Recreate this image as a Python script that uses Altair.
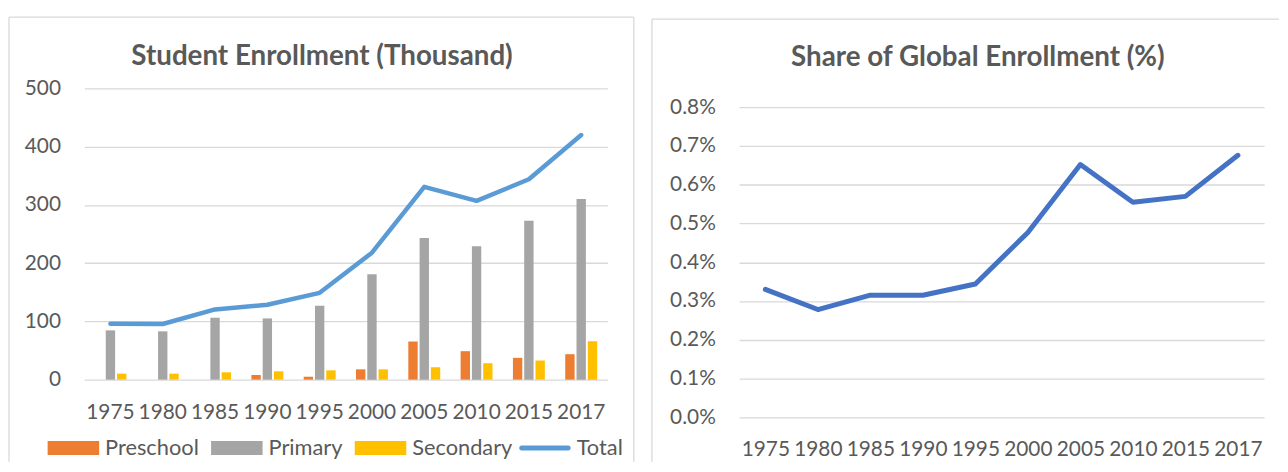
import altair as alt
import pandas as pd

# ---------------- data ----------------
years = ["1975", "1980", "1985", "1990", "1995", "2000", "2005", "2010", "2015", "2017"]
preschool = [0, 0, 0, 8, 5, 17.7, 65.5, 48.9, 37.4, 43.7]
primary = [84.6, 82.9, 106.3, 105.1, 126.9, 181, 243, 229, 273, 310]
secondary = [10.3, 10.3, 12.6, 14.3, 16, 17.7, 21.3, 28.2, 32.8, 66.1]
total = [96, 95.5, 120.5, 128.5, 149, 218, 331, 307, 344, 420]
share_pct = [0.330, 0.278, 0.315, 0.315, 0.344, 0.477, 0.652, 0.555, 0.570, 0.676]

bar_series = ["Preschool", "Primary", "Secondary"]
bar_colors = ["#ED7D31", "#A5A5A5", "#FFC000"]
line_series = ["Total"]
line_colors = ["#5B9BD5"]
left_ticks = [0, 100, 200, 300, 400, 500]
right_ticks = [0, 0.001, 0.002, 0.003, 0.004, 0.005, 0.006, 0.007, 0.008]

# ---------------- tables ----------------
bar_rows = []
for name, vals in zip(bar_series, [preschool, primary, secondary]):
    for y, v in zip(years, vals):
        bar_rows.append({"year": y, "series": name, "value": v})
df_bars = pd.DataFrame(bar_rows)
df_total = pd.DataFrame({"year": years, "series": "Total", "value": total})
df_share = pd.DataFrame({"year": years, "share": [v / 100 for v in share_pct]})
one = pd.DataFrame({"k": [0]})

FONT = "Lato"
TEXT = "#595959"
GRID = "#D9D9D9"
FS = 21
LFS = 22

RECT = "M-2,-0.54H2V0.54H-2Z"
LINE = "M-1.81,-0.19H1.81A0.19,0.19 0 0 1 1.81,0.19H-1.81A0.19,0.19 0 0 1 -1.81,-0.19Z"

legend_common = dict(
    title=None, orient="none", direction="horizontal",
    labelFont=FONT, labelFontSize=LFS, labelColor=TEXT, labelLimit=0,
    symbolSize=676, symbolStrokeWidth=0, symbolOpacity=1,
    labelOffset=19, columnPadding=12, padding=0,
)

# ---------------- left chart ----------------
x_left = alt.X(
    "year:N", sort=years, title=None,
    scale=alt.Scale(paddingInner=0.39, paddingOuter=0.195),
    axis=alt.Axis(labelAngle=0, domain=False, ticks=False, tickSize=0, grid=False,
                  labelPadding=22, labelOverlap=False),
)
y_left = alt.Y(
    "value:Q", title=None,
    scale=alt.Scale(domain=[0, 500], nice=False),
    axis=alt.Axis(values=left_ticks, domain=False, ticks=False, tickSize=0, grid=True,
                  labelPadding=24),
)

bars = alt.Chart(df_bars).mark_bar().encode(
    x=x_left, y=y_left,
    xOffset=alt.XOffset("series:N", sort=bar_series, scale=alt.Scale(paddingInner=0.17)),
    fill=alt.Fill("series:N", scale=alt.Scale(domain=bar_series, range=bar_colors),
                  legend=alt.Legend(legendX=-24, legendY=350, symbolType=RECT, **legend_common)),
)
line_total = alt.Chart(df_total).mark_line(strokeWidth=4.5, strokeCap="round", strokeJoin="round").encode(
    x=x_left, y=y_left,
    stroke=alt.Stroke("series:N", scale=alt.Scale(domain=line_series, range=line_colors),
                      legend=alt.Legend(legendX=452, legendY=350, symbolType=LINE,
                                        symbolFillColor=line_colors[0], **legend_common)),
)

title_left = alt.Chart(one).mark_text(
    text="Student Enrollment (Thousand)", font=FONT, fontSize=28, fontWeight="bold",
    color=TEXT, align="center", baseline="alphabetic",
).encode(x=alt.value(240), y=alt.value(-24))

frame_style = dict(color=GRID, strokeWidth=1.3)
lf_top = alt.Chart(one).mark_rule(**frame_style).encode(x=alt.value(-76), x2=alt.value(554.7), y=alt.value(-72))
lf_left = alt.Chart(one).mark_rule(**frame_style).encode(x=alt.value(-76), y=alt.value(-72), y2=alt.value(377))
lf_right = alt.Chart(one).mark_rule(**frame_style).encode(x=alt.value(554.7), y=alt.value(-72), y2=alt.value(377))

left = alt.layer(lf_top, lf_left, lf_right, title_left, bars, line_total).properties(
    width=528, height=294)

# ---------------- right chart ----------------
x_right = alt.X(
    "year:N", sort=years, title=None,
    scale=alt.Scale(type="point", padding=0.5),
    axis=alt.Axis(labelAngle=0, domain=False, ticks=False, tickSize=0, grid=False,
                  labelPadding=22, labelOverlap=False),
)
y_right = alt.Y(
    "share:Q", title=None,
    scale=alt.Scale(domain=[0, 0.008486], nice=False),
    axis=alt.Axis(values=right_ticks, format=".1%", domain=False, ticks=False, tickSize=0,
                  grid=True, labelPadding=24),
)
line_share = alt.Chart(df_share).mark_line(
    strokeWidth=5, strokeCap="round", strokeJoin="round", color="#4472C4"
).encode(x=x_right, y=y_right)

title_right = alt.Chart(one).mark_text(
    text="Share of Global Enrollment (%)", font=FONT, fontSize=28, fontWeight="bold",
    color=TEXT, align="center", baseline="alphabetic",
).encode(x=alt.value(241), y=alt.value(-23))

rf_top = alt.Chart(one).mark_rule(**frame_style).encode(x=alt.value(-88), x2=alt.value(545), y=alt.value(-70))
rf_left = alt.Chart(one).mark_rule(**frame_style).encode(x=alt.value(-88), y=alt.value(-70), y2=alt.value(377))

right = alt.layer(rf_top, rf_left, title_right, line_share).properties(width=530, height=332)

chart = alt.hconcat(left, right, spacing=16).properties(
    padding={"left": 0, "top": 6, "right": 0, "bottom": 0}
).configure(background="white").configure_view(stroke=None).configure_axis(
    labelFont=FONT, labelFontSize=FS, labelColor=TEXT, gridColor=GRID, gridWidth=1.3
)

chart.save("out.html", embed_options={"renderer": "svg", "actions": False})
